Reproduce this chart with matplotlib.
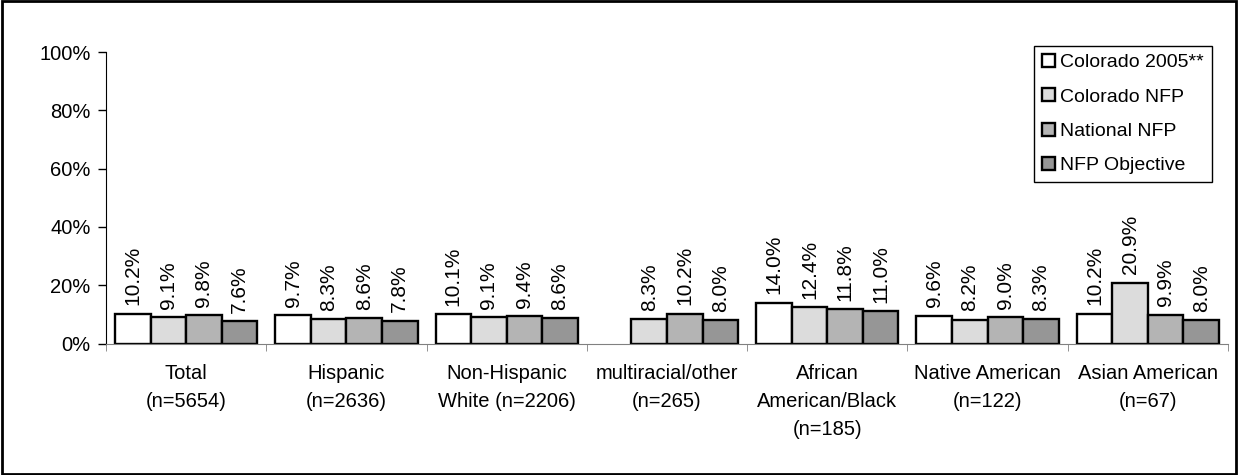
import numpy as np
import matplotlib
matplotlib.use('Agg')
import matplotlib.pyplot as plt
from matplotlib.patches import Rectangle
from matplotlib.ticker import FuncFormatter

plt.rcParams['font.family'] = ['Liberation Sans', 'DejaVu Sans']
plt.rcParams['font.size'] = 14.5

categories = ['Total\n(n=5654)', 'Hispanic\n(n=2636)', 'Non-Hispanic\nWhite (n=2206)',
              'multiracial/other\n(n=265)', 'African\nAmerican/Black\n(n=185)',
              'Native American\n(n=122)', 'Asian American\n(n=67)']
series_names = ['Colorado 2005**', 'Colorado NFP', 'National NFP', 'NFP Objective']
colorado_2005 = [10.2, 9.7, 10.1, np.nan, 14.0, 9.6, 10.2]
colorado_nfp = [9.1, 8.3, 9.1, 8.3, 12.4, 8.2, 20.9]
national_nfp = [9.8, 8.6, 9.4, 10.2, 11.8, 9.0, 9.9]
nfp_objective = [7.6, 7.8, 8.6, 8.0, 11.0, 8.3, 8.0]
yticks = [0, 20, 40, 60, 80, 100]

colors = ['#ffffff', '#dcdcdc', '#b4b4b4', '#969696']
series = [colorado_2005, colorado_nfp, national_nfp, nfp_objective]

fig = plt.figure(figsize=(12.38, 4.75), dpi=100)
ax = fig.add_axes([106 / 1238, 1 - 343.5 / 475, 1122 / 1238, 291.5 / 475])

x = np.arange(len(categories)) + 0.5
w = 0.222
for k, (vals, c, nm) in enumerate(zip(series, colors, series_names)):
    pos = x + (k - 1.5) * w
    ax.bar(pos, vals, width=w, color=c, edgecolor='black', linewidth=1.7, label=nm)
    for p, v in zip(pos, vals):
        if np.isnan(v):
            continue
        ax.annotate(f'{v:.1f}%', (p, v), xytext=(0, 6), textcoords='offset points',
                    rotation=90, ha='center', va='bottom', fontsize=15)

ax.set_xlim(0, len(categories))
ax.set_ylim(0, 100)
ax.set_yticks(yticks)
ax.yaxis.set_major_formatter(FuncFormatter(lambda v, _: f'{v:.0f}%'))
ax.tick_params(axis='y', length=6, pad=5, width=1)
ax.set_xticks(x)
ax.set_xticklabels(categories, linespacing=1.58)
ax.set_xticks(np.arange(len(categories) + 1), minor=True)
ax.tick_params(axis='x', which='major', length=0, pad=15)
ax.tick_params(axis='x', which='minor', length=5, color='#808080')

ax.spines['top'].set_visible(False)
ax.spines['right'].set_visible(False)
ax.spines['bottom'].set_color('#808080')

leg = ax.legend(loc='upper right', bbox_to_anchor=(1212 / 1238, 1 - 46 / 475),
                bbox_transform=fig.transFigure, borderaxespad=0, fancybox=False,
                edgecolor='black', framealpha=1, handlelength=0.65, handleheight=0.65,
                handletextpad=0.3, labelspacing=0.88, borderpad=0.4, fontsize=14)
leg.get_frame().set_linewidth(1)

fig.patches.append(Rectangle((0.002, 0.003), 0.996, 0.994, transform=fig.transFigure,
                             fill=False, edgecolor='black', linewidth=2))

fig.savefig('out.png', dpi=100)
